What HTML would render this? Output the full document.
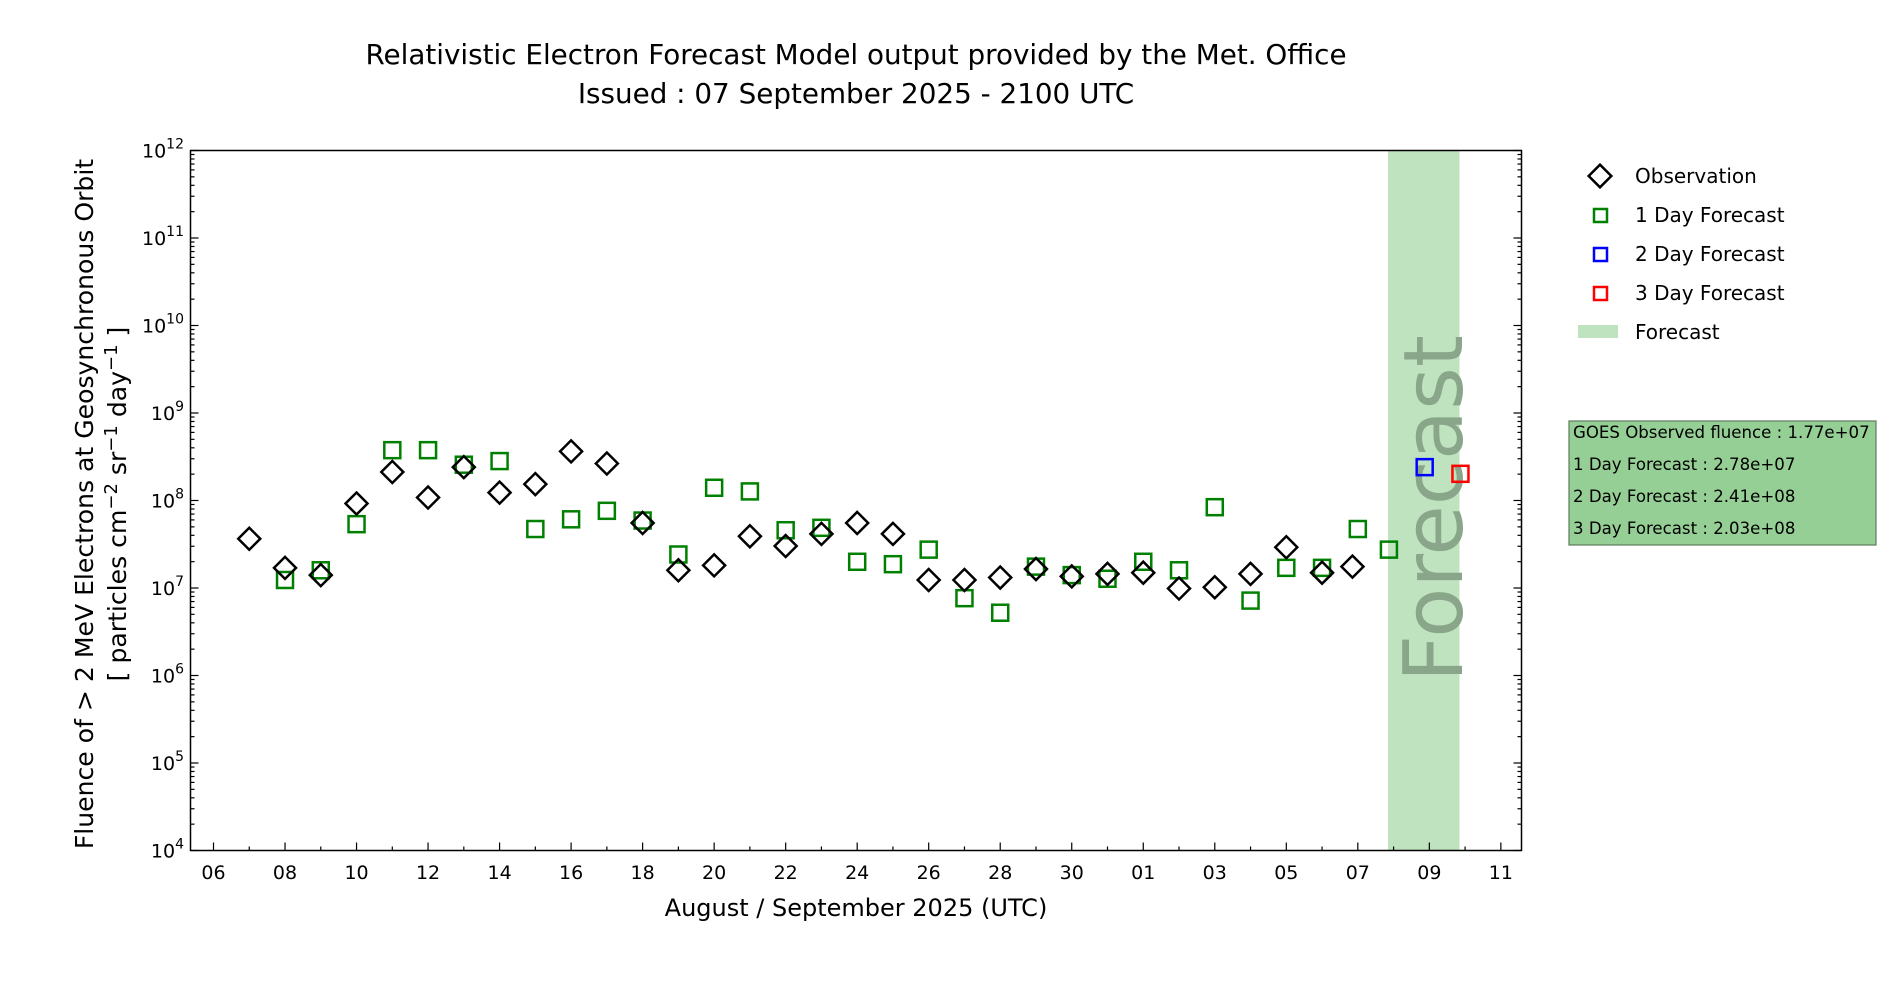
<!DOCTYPE html>
<html><head><meta charset="utf-8"><style>
html,body{margin:0;padding:0;background:#fff}
svg{display:block;font-family:"DejaVu Sans","Liberation Sans",sans-serif}
</style></head><body>
<svg id="s" width="1900" height="1000" xmlns="http://www.w3.org/2000/svg">
<rect width="1900" height="1000" fill="#fff"/>
<rect x="1388" y="150.5" width="71.5" height="700" fill="#bfe3bf"/>
<text transform="translate(1462,682) rotate(-90)" font-size="82" fill="#8aa68a">Forecast</text>
<g id="pts"></g>
<rect x="190.5" y="150.5" width="1331" height="700" fill="none" stroke="#000" stroke-width="1.5"/>
<g id="ticks" stroke="#000" stroke-width="1.2"></g>
<g id="labels" fill="#000"></g>
<text x="856" y="64" font-size="27.8" text-anchor="middle">Relativistic Electron Forecast Model output provided by the Met. Office</text>
<text x="856" y="103" font-size="27.8" text-anchor="middle">Issued : 07 September 2025 - 2100 UTC</text>
<text x="856" y="916" font-size="24" text-anchor="middle">August / September 2025 (UTC)</text>
<text transform="translate(93,504) rotate(-90)" font-size="25.1" text-anchor="middle">Fluence of &gt; 2 MeV Electrons at Geosynchronous Orbit</text>
<text transform="translate(126,504) rotate(-90)" font-size="25.1" text-anchor="middle">[ particles cm<tspan dy="-9" font-size="18">−2</tspan><tspan dy="9"> sr</tspan><tspan dy="-9" font-size="18">−1</tspan><tspan dy="9"> day</tspan><tspan dy="-9" font-size="18">−1</tspan><tspan dy="9"> ]</tspan></text>
<!-- legend -->
<rect x="1592" y="168" width="16" height="16" transform="rotate(45 1600 176)" fill="none" stroke="#000" stroke-width="2.5"/>
<rect x="1594" y="209" width="13" height="13" fill="none" stroke="#008000" stroke-width="2.5"/>
<rect x="1594" y="248" width="13" height="13" fill="none" stroke="#0000ff" stroke-width="2.5"/>
<rect x="1594" y="287" width="13" height="13" fill="none" stroke="#ff0000" stroke-width="2.5"/>
<rect x="1578" y="325" width="40" height="13" fill="#bfe3bf"/>
<g font-size="20">
<text x="1635" y="183">Observation</text>
<text x="1635" y="222">1 Day Forecast</text>
<text x="1635" y="261">2 Day Forecast</text>
<text x="1635" y="300">3 Day Forecast</text>
<text x="1635" y="339">Forecast</text>
</g>
<rect x="1569" y="421" width="307" height="124" fill="#95cf95" stroke="#5f7a5f" stroke-width="1.2"/>
<g font-size="16.6">
<text x="1573" y="438">GOES Observed fluence : 1.77e+07</text>
<text x="1573" y="470">1 Day Forecast : 2.78e+07</text>
<text x="1573" y="502">2 Day Forecast : 2.41e+08</text>
<text x="1573" y="534">3 Day Forecast : 2.03e+08</text>
</g>
</svg>
<script>
var NS="http://www.w3.org/2000/svg";
function el(p,t,a,txt){var e=document.createElementNS(NS,t);for(var k in a)e.setAttribute(k,a[k]);if(txt!=null)e.textContent=txt;p.appendChild(e);return e;}
var L=190.5,R=1521.5,T=150.5,B=850.5;
function X(d){return 213.5+d*35.76;}
function Y(yd){return 150.5+(yd-124)*1.2132;}
var tk=document.getElementById('ticks'),lb=document.getElementById('labels'),pts=document.getElementById('pts');
for(var k=4;k<=12;k++){
  var y=B-(k-4)*87.5;
  el(tk,'line',{x1:L,y1:y,x2:L+8,y2:y});el(tk,'line',{x1:R,y1:y,x2:R-8,y2:y});
  var t=el(lb,'text',{x:184,y:y+7,'font-size':19,'text-anchor':'end'});
  t.appendChild(document.createTextNode('10'));
  var s=document.createElementNS(NS,'tspan');s.setAttribute('dy','-9');s.setAttribute('font-size','14');s.textContent=k;t.appendChild(s);
  if(k<12)for(var m=2;m<=9;m++){var yy=y-Math.log10(m)*87.5;
    el(tk,'line',{x1:L,y1:yy,x2:L+4,y2:yy});el(tk,'line',{x1:R,y1:yy,x2:R-4,y2:yy});}
}
var labs=['06','08','10','12','14','16','18','20','22','24','26','28','30','01','03','05','07','09','11'];
for(var d=0;d<=36;d++){var x=X(d);
  if(d%2==0){el(tk,'line',{x1:x,y1:B,x2:x,y2:B-8});el(lb,'text',{x:x,y:879,'font-size':19,'text-anchor':'middle'},labs[d/2]);}
  else el(tk,'line',{x1:x,y1:B,x2:x,y2:B-4});
}
var g=[[2,478],[3,470],[4,432],[5,371],[6,371],[7,383],[8,380],[9,436],[10,428],[11,421],[12,429],[13,457],[14,402],[15,405],[16,437],[17,435],[18,463],[19,465],[20,453],[21,493],[22,505],[23,467],[24,474],[25,477],[26,463],[27,470],[28,418],[29,495],[30,468],[31,468],[32,436],[32.87,453]];
var o=[[1,444],[2,468],[3,474],[4,415],[5,389],[6,410],[7,385],[8,406],[9,399],[10,372],[11,382],[12,431],[13,470],[14,466],[15,442],[16,450],[17,440],[18,431],[19,440],[20,478],[21,478],[22,476],[23,469],[24,475],[25,473],[26,472],[27,485],[28,484],[29,473],[30,451],[31,472],[31.85,467]];
g.forEach(function(p){var x=X(p[0]),y=Y(p[1]);el(pts,'rect',{x:x-8,y:y-8,width:16,height:16,fill:'none',stroke:'#008000','stroke-width':2.5});});
el(pts,'rect',{x:X(33.87)-8,y:Y(385)-8,width:16,height:16,fill:'none',stroke:'#0000ff','stroke-width':2.5});
el(pts,'rect',{x:X(34.87)-8,y:Y(390.5)-8,width:16,height:16,fill:'none',stroke:'#ff0000','stroke-width':2.5});
o.forEach(function(p){var x=X(p[0]),y=Y(p[1]);el(pts,'path',{d:'M'+x+' '+(y-11)+'L'+(x+11)+' '+y+'L'+x+' '+(y+11)+'L'+(x-11)+' '+y+'Z',fill:'none',stroke:'#000','stroke-width':2.5});});
</script>
</body></html>
